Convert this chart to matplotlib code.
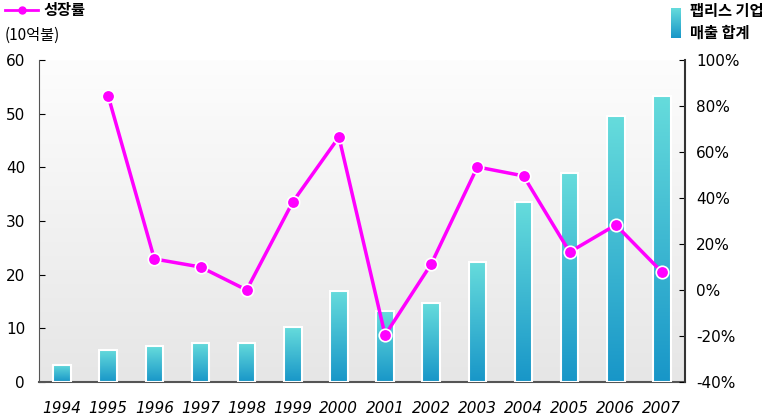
import numpy as np
import matplotlib.pyplot as plt
from matplotlib.colors import LinearSegmentedColormap
from matplotlib.patches import Rectangle

plt.rcParams['font.family'] = ['DejaVu Sans', 'Noto Sans CJK KR']

years = ['1994', '1995', '1996', '1997', '1998', '1999', '2000',
         '2001', '2002', '2003', '2004', '2005', '2006', '2007']
sales = [3.2, 6.0, 6.7, 7.3, 7.3, 10.2, 17.0, 13.2, 14.7, 22.3, 33.5, 38.9, 49.5, 53.3]
growth = [None, 84.3, 13.5, 10.0, 0.0, 38.3, 66.5, -19.6, 11.3, 53.5, 49.6, 16.5, 28.3, 7.8]

left_ticks = [0, 10, 20, 30, 40, 50, 60]
right_ticks = [-40, -20, 0, 20, 40, 60, 80, 100]

bar_cmap = LinearSegmentedColormap.from_list('bar', ['#1896c8', '#66dcdc'])
bg_cmap = LinearSegmentedColormap.from_list('bg', ['#e6e6e6', '#fdfdfd'])
kfont = ['Noto Sans CJK KR', 'DejaVu Sans']

fig = plt.figure(figsize=(7.73, 4.16), dpi=100)
ax = fig.add_axes([39 / 773, 34 / 416, 646 / 773, 322 / 416])
x = np.arange(len(years))
ax.set_xlim(-0.5, len(years) - 0.5)
ax.set_ylim(0, 60)

# background gradient
grad = np.linspace(0, 1, 256).reshape(-1, 1)
ax.imshow(grad, cmap=bg_cmap, aspect='auto', origin='lower',
          extent=[-0.5, len(years) - 0.5, 0, 60], zorder=0)

# gradient bars
w = 0.38
for xi, v in zip(x, sales):
    im = ax.imshow(grad, cmap=bar_cmap, aspect='auto', origin='lower',
                   extent=[xi - w / 2, xi + w / 2, 0, v], zorder=2)
    r = Rectangle((xi - w / 2, 0), w, v, facecolor='none', edgecolor='white',
                  linewidth=1.5, zorder=3)
    ax.add_patch(r)
    im.set_clip_path(r)

ax.set_xticks(x)
ax.set_xticklabels(years, fontstyle='italic', fontsize=11)
ax.set_yticks(left_ticks)
ax.tick_params(axis='y', direction='in', labelsize=11, length=4, pad=10)
ax.tick_params(axis='x', length=0, pad=14)
for s in ['top', 'right']:
    ax.spines[s].set_visible(False)
ax.spines['left'].set_color('#555555')
ax.spines['bottom'].set_color('#555555')
ax.spines['bottom'].set_linewidth(1.5)

ax2 = ax.twinx()
ax2.set_ylim(-40, 100)
ax2.set_yticks(right_ticks)
ax2.set_yticklabels([f'{t}%' for t in right_ticks])
ax2.tick_params(axis='y', direction='in', labelsize=11, length=4, pad=8)
ax2.spines['top'].set_visible(False)
ax2.spines['left'].set_visible(False)
ax2.spines['bottom'].set_visible(False)
ax2.spines['right'].set_color('#333333')
ax2.spines['right'].set_linewidth(1.5)

gx = [xi for xi, g in zip(x, growth) if g is not None]
gy = [g for g in growth if g is not None]
ax2.plot(gx, gy, color='#ff00ff', linewidth=2.5, marker='o', markersize=9,
         markeredgecolor='white', markeredgewidth=1.2, zorder=5)

# legends
fig.lines.append(plt.Line2D([5 / 773, 38 / 773], [1 - 10 / 416] * 2, color='#ff00ff',
                            linewidth=2, transform=fig.transFigure))
fig.lines.append(plt.Line2D([21.5 / 773], [1 - 10 / 416], color='#ff00ff', marker='o',
                            markersize=5, transform=fig.transFigure))
fig.text(43 / 773, 1 - 10 / 416, '성장률', fontsize=11, fontweight='bold',
         family=kfont, va='center')
fig.text(5 / 773, 1 - 35 / 416, '(10억불)', fontsize=11, family=kfont, va='center')

lax = fig.add_axes([671 / 773, 1 - 38 / 416, 10 / 773, 30 / 416])
lax.imshow(grad, cmap=bar_cmap, aspect='auto', origin='lower')
lax.axis('off')
fig.text(690 / 773, 1 - 22 / 416, '팹리스 기업\n매출 합계', fontsize=11,
         fontweight='bold', family=kfont, va='center', linespacing=1.4)

fig.savefig('out.png', dpi=100)
